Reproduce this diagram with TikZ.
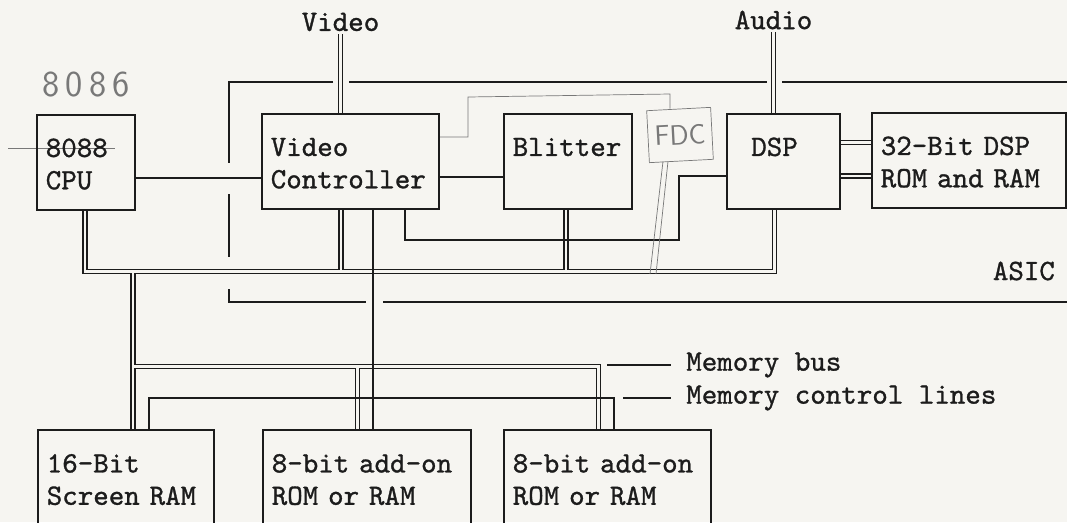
\documentclass[tikz,border=0pt]{standalone}
\usepackage{fontspec}
\setmonofont{lmmono10-regular.otf}[FakeBold=1]
\usetikzlibrary{backgrounds,calc,positioning}
\definecolor{paper}{RGB}{246,245,241}
\definecolor{ink}{RGB}{28,28,28}
\definecolor{graphite}{RGB}{120,120,120}
\newcommand{\tstrut}{\rule[-1.9pt]{0pt}{19.2pt}}

\begin{document}
\begin{tikzpicture}[x=0.025cm,y=-0.025cm,
    font=\ttfamily\fontsize{21}{23}\selectfont,
    box/.style={draw=ink,text=ink,line width=1.1pt,anchor=north west,align=left,
      inner xsep=0.225cm,inner ysep=0pt,minimum height=2.375cm,text width=#1},
    tag/.style={inner sep=2pt,text=ink},
    busout/.style={draw=ink,line width=4.1pt},
    busin/.style={draw=paper,line width=2.1pt},
    wire/.style={draw=ink,line width=0.95pt},
    pencil/.style={draw=graphite,line width=0.5pt}]
\path[use as bounding box] (0,0) rectangle (1067,522);

% chips inside the ASIC
\node[box=2cm] (CPU) at (36,114) {\tstrut 8088\\\tstrut CPU};
\node[box=3.975cm] (VC) at (261,113) {\tstrut Video\\\tstrut Controller};
\node[box=2.75cm] (Blitter) at (503,113) {\tstrut Blitter\\\tstrut};
\node[box=2.375cm] (DSP) at (726,113) {\tstrut\hphantom{D}DSP\\\tstrut};
\node[box=4.4cm] (ROM) at (871,112) {\tstrut 32-Bit DSP\\\tstrut ROM and RAM};
% memory
\node[box=3.95cm,minimum height=2.4cm] (ScreenRAM) at (37,429) {\tstrut 16-Bit\\\tstrut Screen RAM};
\node[box=4.75cm,minimum height=2.4cm] (AddOnA) at (262,429) {\tstrut 8-bit add-on\\\tstrut ROM or RAM};
\node[box=4.725cm,minimum height=2.4cm] (AddOnB) at (503,429) {\tstrut 8-bit add-on\\\tstrut ROM or RAM};

\node[tag] (lblVideo) at (340.5,22) {Video};
\node[tag] (lblAudio) at (773.5,20) {Audio};
\node[tag,anchor=east] (lblAsic) at (1058,271) {ASIC};
\node[tag,anchor=west,inner xsep=0.375cm] (lblBus) at (671,365) {Memory bus};
\node[tag,anchor=west,inner xsep=0.375cm] (lblCtl) at (671,398) {Memory control lines};

% pencil notes
\node[text=graphite,font=\sffamily\fontsize{26}{26}\selectfont] (note) at (86,85) {8\,0\,8\,6};
\node[pencil,rotate=3,minimum width=1.6cm,minimum height=1.3cm,inner sep=0pt,
  text=graphite,font=\sffamily\fontsize{20}{20}\selectfont] (FDC) at (680,135) {FDC};

\coordinate (busL) at (85,271.5);
\coordinate (busR) at (774.5,271.5);
\coordinate (tapVC) at (341,271.5);
\coordinate (tapBlit) at (566,271.5);
\coordinate (tapMem) at (133,271.5);
\coordinate (memL) at (133,366.5);
\coordinate (memR) at (598.5,366.5);
\coordinate (tapA) at (357.5,366.5);
\coordinate (busTip) at (607,365);
\coordinate (ctlTip) at (623,398);

\begin{scope}[on background layer]
\fill[paper] (0,0) rectangle (1067,522);
% ASIC outline
\draw[wire,line width=1.1pt] (333,82) -| (229,163) (229,194) -- (229,257)
  (229,289) |- (366,302) (349,82) -- (767,82) (782,82) -- (1067,82) (383,302) -- (1067,302);
% double lines: outline first, then hollow them out
\foreach \pass in {busout,busin} {
  \draw[\pass] (lblVideo.south) -- (lblVideo.south |- VC.north);
  \draw[\pass] (lblAudio.south) -- (lblAudio.south |- DSP.north);
  \draw[\pass] (CPU.south -| busL) -- (busL) -- (busR) -- (busR |- DSP.south);
  \draw[\pass] (tapVC |- VC.south) -- (tapVC);
  \draw[\pass] (tapBlit |- Blitter.south) -- (tapBlit);
  \draw[\pass] (tapMem) -- (tapMem |- ScreenRAM.north);
  \draw[\pass] (memL) -- (memR) -- (memR |- AddOnB.north);
  \draw[\pass] (tapA) -- (tapA |- AddOnA.north);
  \draw[\pass] (DSP.east |- 0,142.5) -- (ROM.west |- 0,142.5);
  \draw[\pass] (DSP.east |- 0,176) -- (ROM.west |- 0,176);
}
% single lines
\draw[wire] (CPU.east |- 0,178) -- (VC.west |- 0,178);
\draw[wire] (VC.east |- 0,177) -- (Blitter.west |- 0,177);
\draw[wire] (VC.south -| 373,0) -- (AddOnA.north -| 373,0);
\draw[wire] (VC.south -| 405,0) |- (679,240) |- (DSP.west |- 0,176);
\draw[wire] (ScreenRAM.north -| 149,0) |- (614,398) -- (AddOnB.north -| 614,0);
\draw[wire] (busTip) -- (lblBus.west);
\draw[wire] (ctlTip) -- (lblCtl.west);
% pencil additions
\draw[pencil] (VC.east |- 0,137) -- (468,137) -- (468,97) -- (670,94) -- (FDC.north -| 670,0);
\draw[pencil] (FDC.south -| 663,0) -- (650,274) (FDC.south -| 668,0) -- (656,274);
\draw[pencil] (8,148) -- (115,148);
\end{scope}
\end{tikzpicture}
\end{document}
